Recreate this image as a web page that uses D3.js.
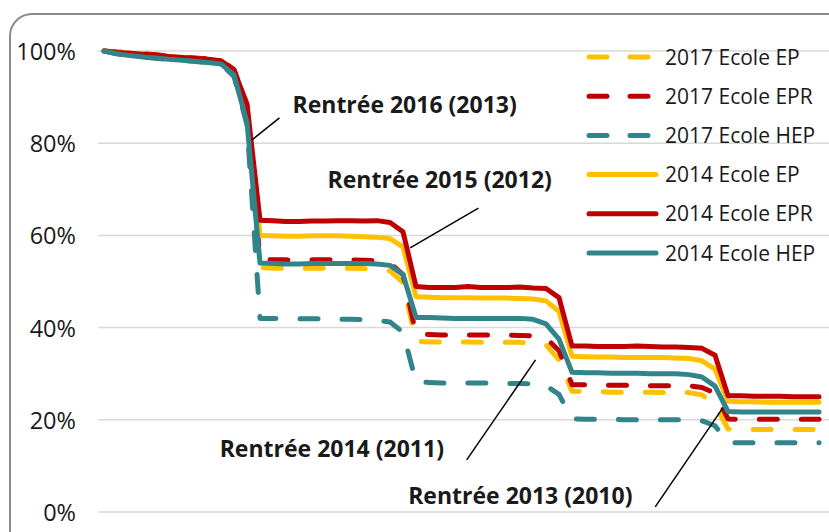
<!DOCTYPE html>
<html>
<head>
<meta charset="utf-8">
<script src="https://cdn.jsdelivr.net/npm/d3@7/dist/d3.min.js"></script>
<style>
  body { margin: 0; background: #fff; overflow: hidden; }
</style>
</head>
<body>
<div id="chart"></div>
<script>
// --- DONNEES (mois depuis la rentrée, % encore présents) ---
const months = d3.range(0, 56);

const ep2017 = [100, 99.7, 99.4, 99.2, 99.0, 98.8, 98.5, 98.3, 98.1, 97.8, 95.5, 86.5, 53.0,
  52.9, 52.9, 52.9, 52.9, 52.9, 52.9, 52.9, 52.8, 52.7, 52.3, 49.8, 37.0,
  36.9, 36.9, 36.9, 36.9, 36.8, 36.8, 36.8, 36.8, 36.7, 36.3, 33.0, 26.2,
  26.1, 26.1, 26.0, 26.0, 26.0, 26.0, 25.9, 25.9, 25.9, 25.4, 23.3, 18.0,
  17.9, 17.9, 17.9, 17.9, 17.9, 17.9, 17.9];

const epr2017 = [100, 99.8, 99.6, 99.4, 99.2, 98.9, 98.7, 98.5, 98.3, 98.0, 96.0, 88.0, 54.8,
  54.7, 54.7, 54.6, 54.7, 54.7, 54.7, 54.7, 54.6, 54.5, 54.0, 51.5, 38.6,
  38.5, 38.4, 38.4, 38.4, 38.4, 38.4, 38.4, 38.3, 38.2, 37.8, 35.0, 27.6,
  27.6, 27.5, 27.5, 27.5, 27.5, 27.4, 27.4, 27.4, 27.4, 27.0, 25.8, 20.2,
  20.1, 20.1, 20.1, 20.1, 20.1, 20.1, 20.1];

const hep2017 = [100, 99.4, 99.0, 98.7, 98.4, 98.2, 98.0, 97.7, 97.5, 97.2, 94.5, 84.0, 42.0,
  42.0, 41.9, 41.9, 41.9, 41.9, 41.8, 41.8, 41.7, 41.6, 41.2, 39.0, 28.2,
  28.1, 28.0, 28.0, 28.0, 28.0, 28.0, 27.9, 27.9, 27.8, 27.4, 25.5, 20.2,
  20.1, 20.1, 20.1, 20.0, 20.0, 20.0, 20.0, 20.0, 20.0, 19.8, 18.7, 15.0,
  15.0, 15.0, 15.0, 15.0, 15.0, 15.0, 15.0];

const ep2014 = [100, 99.7, 99.5, 99.2, 99.0, 98.8, 98.6, 98.3, 98.1, 97.8, 95.5, 87.0, 60.0,
  59.9, 59.8, 59.8, 59.9, 59.9, 59.9, 59.8, 59.7, 59.6, 59.3, 57.5, 46.7,
  46.6, 46.5, 46.5, 46.5, 46.4, 46.4, 46.4, 46.3, 46.2, 45.8, 43.5, 33.8,
  33.7, 33.6, 33.6, 33.5, 33.5, 33.5, 33.5, 33.4, 33.3, 32.8, 31.0, 24.0,
  23.9, 23.9, 23.8, 23.8, 23.8, 23.8, 23.8];

const epr2014 = [100, 99.7, 99.5, 99.3, 99.1, 98.8, 98.6, 98.4, 98.2, 97.9, 95.8, 88.5, 63.3,
  63.2, 63.0, 63.0, 63.1, 63.1, 63.2, 63.2, 63.1, 63.2, 62.8, 60.8, 48.9,
  48.7, 48.7, 48.7, 48.9, 48.7, 48.7, 48.7, 48.8, 48.6, 48.5, 46.5, 36.0,
  36.0, 35.9, 35.9, 35.9, 36.0, 35.9, 35.8, 35.8, 35.7, 35.5, 34.0, 25.2,
  25.2, 25.1, 25.1, 25.1, 25.0, 25.0, 25.0];

const hep2014 = [100, 99.4, 99.0, 98.7, 98.5, 98.2, 98.0, 97.8, 97.5, 97.2, 94.8, 84.5, 54.0,
  53.9, 53.8, 53.8, 53.9, 53.9, 53.9, 53.9, 53.9, 53.8, 53.5, 51.5, 42.2,
  42.2, 42.1, 42.0, 42.0, 42.0, 42.0, 42.0, 42.0, 41.8, 40.8, 37.5, 30.3,
  30.2, 30.2, 30.1, 30.1, 30.1, 30.0, 30.0, 30.0, 29.8, 29.3, 27.3, 21.8,
  21.7, 21.7, 21.7, 21.7, 21.7, 21.7, 21.7];

const seriesNames = ["2017 Ecole EP", "2017 Ecole EPR", "2017 Ecole HEP",
                     "2014 Ecole EP", "2014 Ecole EPR", "2014 Ecole HEP"];
const yTicks = [0, 20, 40, 60, 80, 100];

// annotations : texte, position du texte (mois, %), trait (mois, %) -> (mois, %)
const annotations = [
  { text: "Rentrée 2016 (2013)", tx: 14.5, ty: 86.6, x1: 11.38, y1: 80.7, x2: 13.5, y2: 85.5 },
  { text: "Rentrée 2015 (2012)", tx: 17.2, ty: 70.3, x1: 23.55, y1: 57.3, x2: 28.8, y2: 65.9 },
  { text: "Rentrée 2014 (2011)", tx: 8.9, ty: 11.9, x1: 33.2, y1: 33.0, x2: 27.9, y2: 11.3 },
  { text: "Rentrée 2013 (2010)", tx: 23.4, ty: 1.7, x1: 47.6, y1: 22.6, x2: 42.4, y2: 1.1 }
];

const width = 829;
const height = 532;

const YELLOW = "#ffc000";
const RED = "#c00000";
const TEAL = "#31858a";
const FONT = "'Open Sans', sans-serif";

const series = [
  { name: seriesNames[0], values: ep2017, color: YELLOW, dashed: true },
  { name: seriesNames[1], values: epr2017, color: RED, dashed: true },
  { name: seriesNames[2], values: hep2017, color: TEAL, dashed: true },
  { name: seriesNames[3], values: ep2014, color: YELLOW, dashed: false },
  { name: seriesNames[4], values: epr2014, color: RED, dashed: false },
  { name: seriesNames[5], values: hep2014, color: TEAL, dashed: false }
];

const svg = d3.select("#chart")
  .append("svg")
  .attr("width", width)
  .attr("height", height)
  .style("display", "block");

// cadre arrondi
svg.append("rect")
  .attr("x", 10)
  .attr("y", 14)
  .attr("width", 860)
  .attr("height", 560)
  .attr("rx", 22)
  .attr("fill", "#fff")
  .attr("stroke", "#8c8c8c")
  .attr("stroke-width", 2);

const x = d3.scaleLinear().domain([0, 56]).range([104, 832]);
const y = d3.scaleLinear().domain([0, 100]).range([512, 51]);

// grille
svg.append("g")
  .selectAll("line")
  .data(yTicks)
  .join("line")
  .attr("x1", 98)
  .attr("x2", width)
  .attr("y1", d => y(d))
  .attr("y2", d => y(d))
  .attr("stroke", "#d9d9d9")
  .attr("stroke-width", 1.5);

// axe Y
const yAxis = svg.append("g")
  .attr("transform", "translate(76,0)")
  .call(d3.axisLeft(y).tickValues(yTicks).tickFormat(d => d + "%").tickSize(0).tickPadding(0));
yAxis.select(".domain").remove();
yAxis.selectAll("text")
  .attr("fill", "#1a1a1a")
  .attr("font-family", FONT)
  .attr("font-size", "23.5px")
  .attr("dy", "0.36em");

const line = d3.line()
  .x((d, i) => x(months[i]))
  .y(d => y(d));

svg.append("g")
  .selectAll("path")
  .data(series)
  .join("path")
  .attr("d", d => line(d.values))
  .attr("fill", "none")
  .attr("stroke", d => d.color)
  .attr("stroke-width", 5)
  .attr("stroke-linejoin", "round")
  .attr("stroke-linecap", "round")
  .attr("stroke-dasharray", d => d.dashed ? "18,24" : null);

// annotations
const ann = svg.append("g");
ann.selectAll("line")
  .data(annotations)
  .join("line")
  .attr("x1", d => x(d.x1))
  .attr("y1", d => y(d.y1))
  .attr("x2", d => x(d.x2))
  .attr("y2", d => y(d.y2))
  .attr("stroke", "#000")
  .attr("stroke-width", 1.5);
ann.selectAll("text")
  .data(annotations)
  .join("text")
  .attr("x", d => x(d.tx))
  .attr("y", d => y(d.ty))
  .attr("font-family", FONT)
  .attr("font-weight", 700)
  .attr("font-size", "23px")
  .attr("fill", "#1a1a1a")
  .text(d => d.text);

// légende
const legend = svg.append("g").attr("transform", "translate(587,57)");
const items = legend.selectAll("g")
  .data(series)
  .join("g")
  .attr("transform", (d, i) => `translate(0,${i * 39.2})`);
items.append("line")
  .attr("x1", 2)
  .attr("x2", d => d.dashed ? 66 : 69)
  .attr("stroke", d => d.color)
  .attr("stroke-width", 5)
  .attr("stroke-linecap", "round")
  .attr("stroke-dasharray", d => d.dashed ? "18,23" : null);
items.append("text")
  .attr("x", 78)
  .attr("dy", "0.36em")
  .attr("font-family", FONT)
  .attr("font-size", "21px")
  .attr("fill", "#1a1a1a")
  .text(d => d.name);
</script>
</body>
</html>
